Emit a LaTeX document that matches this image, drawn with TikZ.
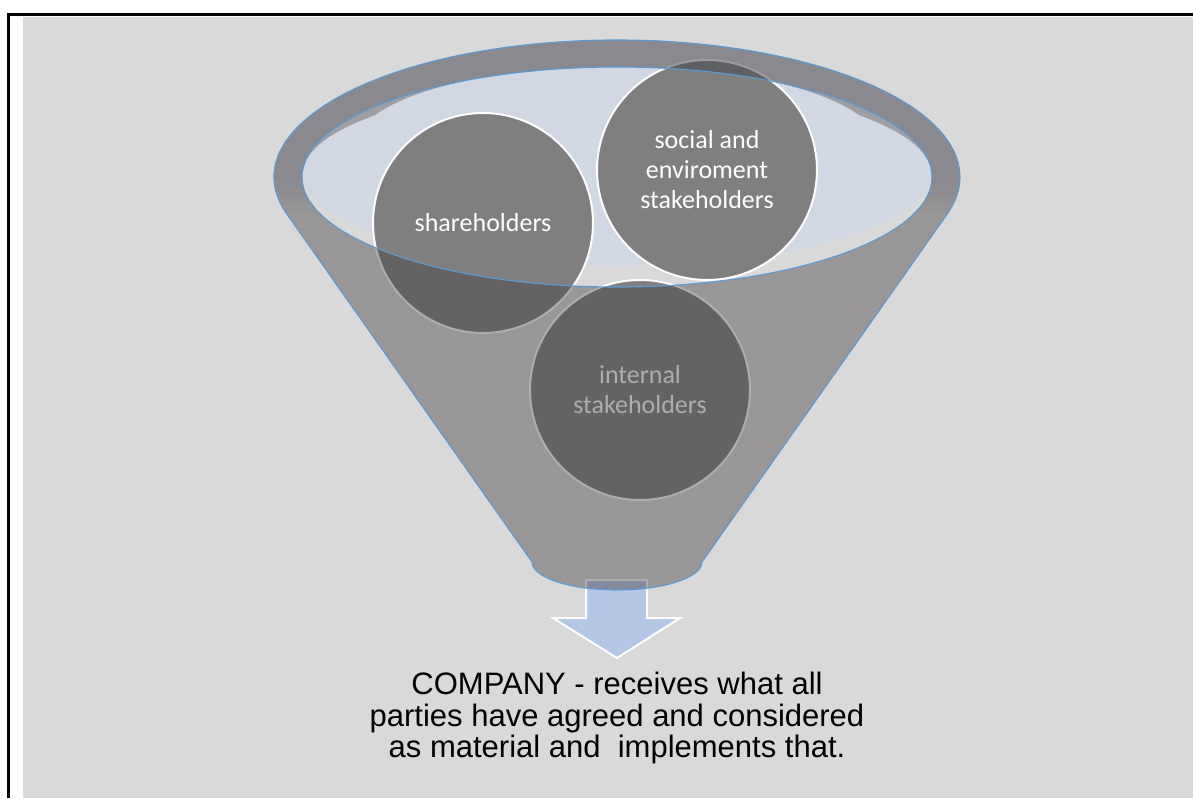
\documentclass[tikz,border=0pt]{standalone}
\usepackage{fontspec}
\usetikzlibrary{calc}
\newfontfamily\circlefont{Carlito}
\newfontfamily\captionfont{Liberation Sans}
\definecolor{pagegray}{HTML}{D9D9D9}
\definecolor{circlegray}{HTML}{7F7F7F}
\definecolor{openblue}{HTML}{D1D8E3}
\definecolor{wallgray}{HTML}{9E9EA3}
\definecolor{arrowblue}{HTML}{B4C7E7}
\definecolor{rimblue}{HTML}{5B9BD5}
\definecolor{shadegray}{RGB}{63,58,58}
\definecolor{tintgray}{RGB}{95,95,125}
\begin{document}
\begin{tikzpicture}[x=1pt,y=1pt,
  stake/.style={circle, draw=white, line width=2pt, fill=circlegray,
    minimum size=220pt, inner sep=0pt, align=center, text=white,
    font=\circlefont\fontsize{26}{30}\selectfont},
  funnelshade/.style={fill=shadegray, fill opacity=0.42},
  outline/.style={draw=rimblue, line width=1.1pt},
  blockarrow/.style={fill=arrowblue, draw=white, line width=2pt, line join=miter},
  caption/.style={font=\captionfont\fontsize{31}{31.7}\selectfont, align=center,
    inner sep=0pt, text=black}]

% page and frame
\useasboundingbox (0,0) rectangle (1193,-798);
\fill[white] (0,0) rectangle (1193,-798);
\fill[pagegray] (23,-17) rectangle (1193,-798);
\draw[black, line width=2.7pt] (8.3,-798) -- (8.3,-14.3) -- (1193,-14.3);

% funnel geometry
\coordinate (rim) at (617,-177);
\coordinate (lefttan) at ($(rim)+(195.72:343 and 137)$);
\coordinate (botright) at (702,-562);

% opening of the funnel: inner wall, lit floor and the pale surface
\begin{scope}
  \clip (rim) ellipse [x radius=315, y radius=110];
  \fill[wallgray] (rim) ellipse [x radius=315, y radius=110];
  \fill[pagegray] (250,-174) rectangle (990,-300);
  \fill[openblue] (617,-174) ellipse [x radius=314, y radius=92];
  \fill[openblue] (617,-146) ellipse [x radius=262, y radius=80];
\end{scope}

% arrow out of the spout
\filldraw[blockarrow] (586,-580) -- (647,-580) -- (647,-618) -- (680,-618)
  -- (617,-658) -- (553,-618) -- (586,-618) -- cycle;

% stakeholder circles
\node[stake] (sh) at (483,-223) {shareholders};
\node[stake] (se) at (707,-170) {social and\\enviroment\\stakeholders};
\node[stake] (is) at (640,-390) {internal\\stakeholders};

% translucent funnel body
\fill[funnelshade, even odd rule]
  (lefttan) arc[start angle=195.72, end angle=-15.72, x radius=343, y radius=137]
  -- (botright) arc[start angle=0, end angle=-180, x radius=85, y radius=28] -- cycle
  (rim) ellipse [x radius=315, y radius=110];

% bluish tint on the rim, built up in overlapping layers so it dies out below
\foreach \bot in {180,188,196,204,212}{
  \begin{scope}
    \clip (250,0) rectangle (990,-\bot);
    \fill[tintgray, fill opacity=0.044, even odd rule]
      (rim) ellipse [x radius=343, y radius=137]
      (rim) ellipse [x radius=315, y radius=110];
  \end{scope}
}

% blue edges of the funnel
\draw[outline, line join=round]
  (lefttan) arc[start angle=195.72, end angle=-15.72, x radius=343, y radius=137]
  -- (botright) arc[start angle=0, end angle=-180, x radius=85, y radius=28] -- cycle;
\draw[outline] (rim) ellipse [x radius=315, y radius=110];

% caption
\node[caption, anchor=north] (co) at (617,-671.8)
  {COMPANY - receives what all\\parties have agreed and considered\\as material and\ \ implements that.};
\end{tikzpicture}
\end{document}
